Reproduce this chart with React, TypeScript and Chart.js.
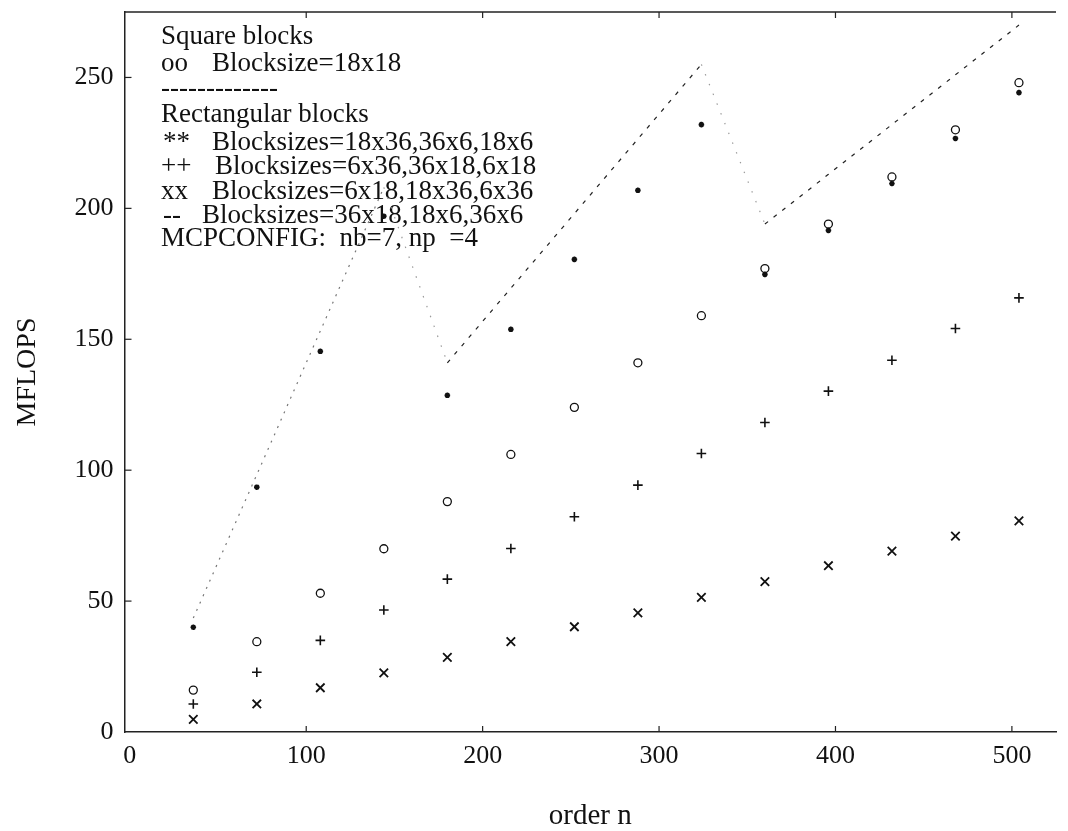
import React, { useEffect, useRef } from 'react';
import { Chart, registerables } from 'chart.js';

Chart.register(...registerables);

// Matrix order n at which each blocking variant was timed
const orderN = [36, 72, 108, 144, 180, 216, 252, 288, 324, 360, 396, 432, 468, 504];

// MFLOPS per blocking variant
const square18x18 = [16, 34.5, 53, 70, 88, 106, 124, 141, 159, 177, 194, 212, 230, 248];
const rect18x36 = [40, 93.5, 145.4, 197, 128.6, 153.8, 180.5, 206.9, 232, 174.8, 191.6, 209.5, 226.7, 244.2];
const rect6x36 = [10.7, 22.8, 35, 46.6, 58.4, 70.1, 82.2, 94.3, 106.4, 118.2, 130.2, 142, 154.1, 165.8];
const rect6x18 = [4.8, 10.7, 16.9, 22.6, 28.5, 34.5, 40.2, 45.5, 51.4, 57.4, 63.5, 69.1, 74.8, 80.6];
const rect36x18 = [43.5, 98.3, 153.2, 208, 141, 169.5, 198, 226.5, 255, 194, 213, 232, 251, 270];

const xTicks = [0, 100, 200, 300, 400, 500];
const yTicks = [0, 50, 100, 150, 200, 250];

// Key text written inside the plot
const keyMarks = ['', 'oo', '', '', '**', '++', 'xx', '--', ''];
const keyTexts = [
  'Square blocks',
  'Blocksize=18x18',
  '-------------',
  'Rectangular blocks',
  'Blocksizes=18x36,36x6,18x6',
  'Blocksizes=6x36,36x18,6x18',
  'Blocksizes=6x18,18x36,6x36',
  'Blocksizes=36x18,18x6,36x6',
  'MCPCONFIG:  nb=7, np  =4',
];

const SERIF = '"Liberation Serif", "Times New Roman", serif';
const INK = '#111';

const pts = (ys: number[]) => orderN.map((n, i) => ({ x: n, y: ys[i] }));

// Key text block drawn under the marks
const keyPlugin = {
  id: 'keyText',
  beforeDatasetsDraw(chart: any) {
    const { ctx, chartArea } = chart;
    const x0 = chartArea.left + 36.5;
    const baselines = [32, 58.5, 84, 110, 138, 162, 187, 211, 234];
    const textDx = [0, 51, 0, 0, 51, 54, 51, 41, 0];
    const markDx = [0, 0, 0, 0, 2, 0, 0, 2, 0];
    ctx.save();
    ctx.font = `27px ${SERIF}`;
    ctx.fillStyle = INK;
    ctx.textBaseline = 'alphabetic';
    ctx.textAlign = 'left';
    keyTexts.forEach((t, i) => {
      const y = chartArea.top + baselines[i];
      if (keyMarks[i]) ctx.fillText(keyMarks[i], x0 + markDx[i], y);
      ctx.fillText(t, x0 + textDx[i], y);
    });
    ctx.restore();
  },
};

// Top frame line and inward tick marks
const framePlugin = {
  id: 'frameTicks',
  afterDraw(chart: any) {
    const { ctx, chartArea, scales } = chart;
    const { left, right, top, bottom } = chartArea;
    ctx.save();
    ctx.strokeStyle = '#222';
    ctx.lineWidth = 1.5;
    ctx.beginPath();
    ctx.moveTo(left, top);
    ctx.lineTo(right, top);
    ctx.stroke();
    ctx.lineWidth = 1.2;
    xTicks.forEach((v) => {
      const px = scales.x.getPixelForValue(v);
      if (v === 0) return;
      ctx.beginPath();
      ctx.moveTo(px, bottom);
      ctx.lineTo(px, bottom - 6);
      ctx.moveTo(px, top);
      ctx.lineTo(px, top + 6);
      ctx.stroke();
    });
    yTicks.forEach((v) => {
      const py = scales.y.getPixelForValue(v);
      if (v === 0) return;
      ctx.beginPath();
      ctx.moveTo(left, py);
      ctx.lineTo(left + 7, py);
      ctx.stroke();
    });
    ctx.restore();
  },
};

export default function App() {
  const canvasRef = useRef<HTMLCanvasElement | null>(null);

  useEffect(() => {
    const canvas = canvasRef.current;
    if (!canvas) return;

    const markSet = (ys: number[], style: string, radius: number, width: number) => ({
      data: pts(ys),
      showLine: false,
      pointStyle: style,
      pointRadius: radius,
      pointBorderWidth: width,
      borderColor: INK,
      pointBorderColor: INK,
      backgroundColor: 'rgba(0,0,0,0)',
      pointBackgroundColor: 'rgba(0,0,0,0)',
    });

    const chart = new Chart(canvas, {
      type: 'scatter',
      data: {
        datasets: [
          {
            label: '36x18,18x6,36x6',
            data: pts(rect36x18),
            showLine: true,
            pointRadius: 0,
            borderColor: '#333',
            borderWidth: 1.2,
            borderDash: [3, 7],
            tension: 0,
            segment: {
              borderColor: (c: any) => {
                const s = (c.p1.parsed.y - c.p0.parsed.y) / (c.p1.parsed.x - c.p0.parsed.x);
                return s < 0 ? '#9a9a9a' : s > 1 ? '#777' : '#222';
              },
              borderDash: (c: any) => {
                const s = (c.p1.parsed.y - c.p0.parsed.y) / (c.p1.parsed.x - c.p0.parsed.x);
                return s < 0 ? [1.5, 9] : s > 1 ? [2, 6] : [4, 7];
              },
            },
          } as any,
          { label: '18x18', ...markSet(square18x18, 'circle', 4, 1.3) },
          { label: '18x36,36x6,18x6', ...markSet(rect18x36, 'star', 2.8, 1.7) },
          { label: '6x36,36x18,6x18', ...markSet(rect6x36, 'cross', 4.8, 1.6) },
          { label: '6x18,18x36,6x36', ...markSet(rect6x18, 'crossRot', 6, 1.8) },
        ],
      },
      options: {
        animation: false,
        responsive: false,
        devicePixelRatio: 1,
        layout: { padding: { left: 0, right: 12, top: 12, bottom: 0 } },
        plugins: { legend: { display: false }, tooltip: { enabled: false } },
        scales: {
          x: {
            type: 'linear',
            min: -3,
            max: 525,
            afterBuildTicks: (s: any) => {
              s.ticks = xTicks.map((v) => ({ value: v }));
            },
            afterFit: (s: any) => {
              s.height = 99;
              s.paddingLeft = 0;
              s.paddingRight = 0;
            },
            grid: { display: false, drawTicks: false },
            border: { display: true, color: '#222', width: 1.5 },
            ticks: {
              font: { family: SERIF, size: 26 },
              color: INK,
              padding: 9,
              maxRotation: 0,
              autoSkip: false,
            },
            title: {
              display: true,
              text: 'order n',
              font: { family: SERIF, size: 29, lineHeight: 1 },
              color: INK,
              padding: { top: 0, bottom: 0 },
            },
          },
          y: {
            type: 'linear',
            min: 0,
            max: 275,
            afterBuildTicks: (s: any) => {
              s.ticks = yTicks.map((v) => ({ value: v }));
            },
            afterFit: (s: any) => {
              s.width = 124.5;
              s.paddingTop = 0;
              s.paddingBottom = 0;
            },
            grid: { display: false, drawTicks: false },
            border: { display: true, color: '#222', width: 1.5 },
            ticks: {
              font: { family: SERIF, size: 26 },
              color: INK,
              padding: 11,
            },
            title: {
              display: true,
              text: 'MFLOPS',
              font: { family: SERIF, size: 28 },
              color: INK,
              padding: { top: 11, bottom: 0 },
            },
          },
        },
      },
      plugins: [keyPlugin, framePlugin],
    } as any);

    return () => chart.destroy();
  }, []);

  return (
    <div style={{ position: 'fixed', left: 0, top: 0, width: 1068, height: 831, background: '#fff' }}>
      <canvas ref={canvasRef} width={1068} height={831} style={{ display: 'block' }} />
    </div>
  );
}
